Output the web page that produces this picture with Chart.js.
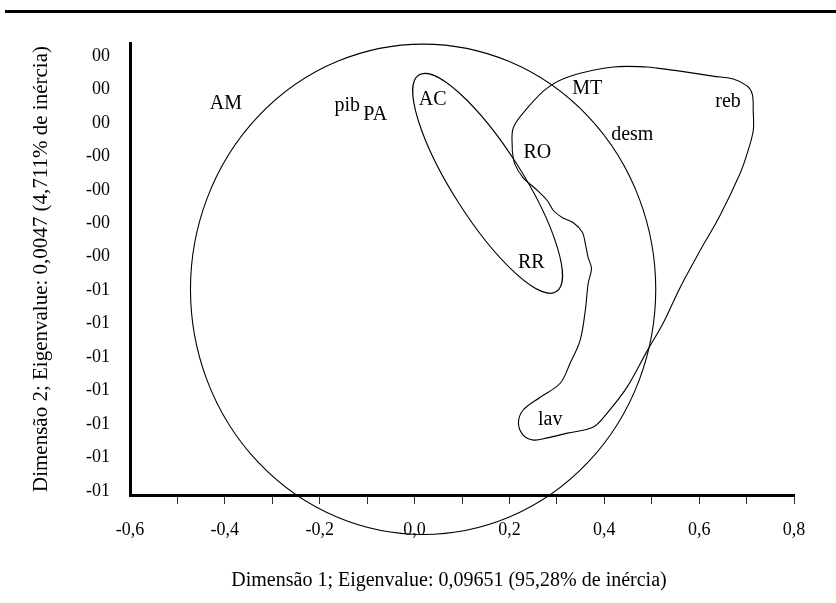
<!DOCTYPE html>
<html>
<head>
<meta charset="utf-8">
<script src="https://cdn.jsdelivr.net/npm/chart.js@4.4.1/dist/chart.umd.min.js"></script>
<style>
  body { margin: 0; background: #fff; }
  #wrap { position: relative; width: 836px; height: 603px; }
  #topRule { position: absolute; left: 5px; top: 10px; width: 831px; height: 3px; background: #000; }
</style>
</head>
<body>
<div id="wrap">
  <div id="topRule"></div>
  <canvas id="plot"></canvas>
</div>
<script>
// categorias (rotulos do mapa)
const nomes = ["AM", "pib", "PA", "AC", "MT", "reb", "desm", "RO", "RR", "lav"];
const dim1 = [-0.398, -0.142, -0.083, 0.038, 0.364, 0.661, 0.459, 0.259, 0.246, 0.286];
const dim2 = [0.00138, 0.00131, 0.00101, 0.00153, 0.00192, 0.00145, 0.00027, -0.00037, -0.00431, -0.00996];

// contorno livre (MT / reb / lav)
const contornoX = [0.206, 0.208, 0.238, 0.280, 0.328, 0.419, 0.491, 0.511, 0.560, 0.629, 0.672, 0.701, 0.712, 0.714, 0.714, 0.701,
  0.686, 0.644, 0.602, 0.560, 0.524, 0.491, 0.448, 0.406, 0.377, 0.322, 0.280, 0.251, 0.229, 0.219, 0.229, 0.265,
  0.307, 0.328, 0.349, 0.360, 0.366, 0.373, 0.366, 0.360, 0.354, 0.335, 0.312, 0.293, 0.280, 0.255, 0.229, 0.211, 0.206];
const contornoY = [-0.00030, 0.00052, 0.00124, 0.00196, 0.00238, 0.00271, 0.00271, 0.00267, 0.00256, 0.00238, 0.00228, 0.00203, 0.00174, 0.00113, 0.00042, -0.00041,
  -0.00112, -0.00262, -0.00388, -0.00520, -0.00649, -0.00746, -0.00878, -0.00971, -0.01021, -0.01043, -0.01060, -0.01068, -0.01050, -0.01007, -0.00960, -0.00914,
  -0.00864, -0.00792, -0.00710, -0.00602, -0.00506, -0.00452, -0.00413, -0.00363, -0.00323, -0.00288, -0.00270, -0.00245, -0.00209, -0.00166, -0.00127, -0.00076, -0.00030];

// circulo grande: centro e raios (unidades dos eixos)
const circuloCentro = [0.018, -0.00527];
const circuloRaio = [0.4905, 0.00880];

// elipse AC-RR: extremos do eixo maior e meia largura (unidades de x)
const elipseA = [0.009, 0.00242];
const elipseB = [0.299, -0.00535];
const elipseMeiaLargura = 0.0737;

// eixos
const xTicks = [-0.6, -0.5, -0.4, -0.3, -0.2, -0.1, 0.0, 0.1, 0.2, 0.3, 0.4, 0.5, 0.6, 0.7, 0.8];
const xTickLabels = ["-0,6", "", "-0,4", "", "-0,2", "", "0,0", "", "0,2", "", "0,4", "", "0,6", "", "0,8"];
const yTicks = [0.0031, 0.0019, 0.0007, -0.0005, -0.0017, -0.0029, -0.0041, -0.0053, -0.0065, -0.0077, -0.0089, -0.0101, -0.0113, -0.0125];
const yTickLabels = ["00", "00", "00", "-00", "-00", "-00", "-00", "-01", "-01", "-01", "-01", "-01", "-01", "-01"];

const fonte = "'Liberation Serif', 'Times New Roman', serif";
Chart.defaults.color = "#000";
Chart.defaults.font.family = fonte;

let formas = {
  id: "formas",
  afterDatasetsDraw(chart) {
    let ctx = chart.ctx;
    let sx = chart.scales.x;
    let sy = chart.scales.y;
    ctx.save();
    ctx.strokeStyle = "#000";
    ctx.lineWidth = 1.1;

    // circulo
    let cx = sx.getPixelForValue(circuloCentro[0]);
    let cy = sy.getPixelForValue(circuloCentro[1]);
    let rx = Math.abs(sx.getPixelForValue(circuloCentro[0] + circuloRaio[0]) - cx);
    let ry = Math.abs(sy.getPixelForValue(circuloCentro[1] + circuloRaio[1]) - cy);
    ctx.beginPath();
    ctx.ellipse(cx, cy, rx, ry, 0, 0, Math.PI * 2);
    ctx.stroke();

    // elipse
    let ax = sx.getPixelForValue(elipseA[0]), ay = sy.getPixelForValue(elipseA[1]);
    let bx = sx.getPixelForValue(elipseB[0]), by = sy.getPixelForValue(elipseB[1]);
    let ex = (ax + bx) / 2, ey = (ay + by) / 2;
    let semi = Math.hypot(bx - ax, by - ay) / 2;
    let ang = Math.atan2(by - ay, bx - ax);
    let largura = Math.abs(sx.getPixelForValue(elipseMeiaLargura) - sx.getPixelForValue(0));
    ctx.beginPath();
    ctx.ellipse(ex, ey, semi, largura, ang, 0, Math.PI * 2);
    ctx.stroke();

    // rotulos
    let meta = chart.getDatasetMeta(1);
    ctx.fillStyle = "#000";
    ctx.font = "20px " + fonte;
    ctx.textAlign = "center";
    ctx.textBaseline = "middle";
    meta.data.forEach((p, i) => {
      ctx.fillText(nomes[i], p.x, p.y);
    });

    // titulo do eixo x
    ctx.font = "20px " + fonte;
    ctx.fillText("Dimensão 1; Eigenvalue: 0,09651 (95,28% de inércia)", 449, 581);
    ctx.restore();
  },
};

let plotRef = document.getElementById("plot");

let config = {
  type: "scatter",
  data: {
    datasets: [
      {
        label: "contorno",
        data: contornoX.map((x, i) => ({ x: x, y: contornoY[i] })),
        showLine: true,
        borderColor: "#000",
        borderWidth: 1.1,
        pointRadius: 0,
        tension: 0.35,
        fill: false,
        clip: false,
      },
      {
        label: "rotulos",
        data: dim1.map((x, i) => ({ x: x, y: dim2[i] })),
        pointRadius: 0,
        showLine: false,
      },
    ],
  },
  options: {
    responsive: true,
    maintainAspectRatio: false,
    animation: false,
    layout: { padding: { top: 43, right: 42, left: 0, bottom: 0 } },
    plugins: { legend: { display: false }, tooltip: { enabled: false } },
    scales: {
      x: {
        type: "linear",
        min: -0.6,
        max: 0.8,
        afterBuildTicks: (s) => { s.ticks = xTicks.map((v) => ({ value: v })); },
        afterFit: (s) => { s.height = 108; },
        ticks: {
          font: { size: 18 },
          padding: 15,
          maxRotation: 0,
          autoSkip: false,
          callback: (v, i) => xTickLabels[i],
        },
        grid: {
          drawOnChartArea: false,
          drawTicks: true,
          tickLength: 9,
          color: (c) => (c.index === 0 ? "rgba(0,0,0,0)" : "#333"),
          lineWidth: 1,
        },
        border: { color: "#000", width: 3 },
      },
      y: {
        type: "linear",
        min: -0.01265,
        max: 0.00357,
        afterBuildTicks: (s) => { s.ticks = yTicks.map((v) => ({ value: v })); },
        afterFit: (s) => { s.width = 130; },
        ticks: {
          font: { size: 18 },
          padding: 20,
          autoSkip: false,
          callback: (v, i) => yTickLabels[i],
        },
        grid: { display: false, drawTicks: false },
        border: { color: "#000", width: 3 },
        title: {
          display: true,
          text: "Dimensão 2; Eigenvalue: 0,0047 (4,711% de inércia)",
          font: { size: 21 },
          padding: { top: 29, bottom: 0 },
        },
      },
    },
  },
  plugins: [formas],
};

let chart1 = new Chart(plotRef, config);
</script>
</body>
</html>
